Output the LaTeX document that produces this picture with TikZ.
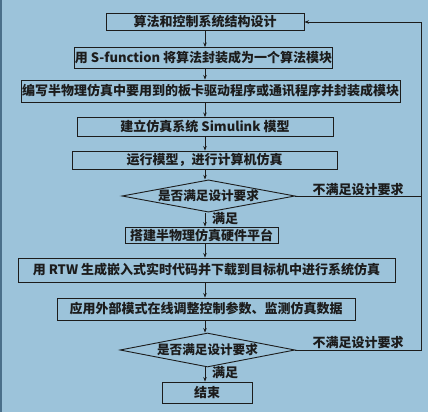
\documentclass[tikz,border=0pt]{standalone}
\usepackage{fontspec}
\setmainfont{Noto Sans CJK SC}
\usetikzlibrary{shapes.geometric,arrows.meta}
\definecolor{bg}{HTML}{9CC3DA}
\definecolor{edge}{HTML}{4A6F8A}
\definecolor{ink}{HTML}{1C1C1C}
\begin{document}
\begin{tikzpicture}[x=1pt,y=-1pt,
  stepbox/.style={draw=ink,line width=0.9pt,inner sep=0pt,text=ink,font=\fontsize{13}{13}\selectfont\bfseries},
  decide/.style={draw=ink,line width=0.9pt,diamond,aspect=5,inner sep=0pt,text=ink,font=\fontsize{12.6}{13}\selectfont\bfseries},
  lbl/.style={text=ink,inner sep=0pt,font=\fontsize{13}{13}\selectfont\bfseries},
  arr/.style={draw=ink,line width=0.8pt,-{Stealth[length=4.5pt,width=3.5pt]}},
  ln/.style={draw=ink,line width=0.8pt}]
\useasboundingbox (0,0) rectangle (428,412);
\fill[bg] (0,0) rectangle (428,412);
\fill[edge] (0,0) rectangle (2,412);
\coordinate (col) at (205,0);
\coordinate (fr) at (421,0);
\node[stepbox,minimum width=198pt,minimum height=17pt] (b1) at (205,22) {算法和控制系统结构设计};
\node[stepbox,minimum width=249pt,minimum height=21pt] (b2) at (203.5,58) {用 S-function 将算法封装成为一个算法模块};
\node[stepbox,minimum width=379pt,minimum height=22pt] (b3) at (210.5,91) {编写半物理仿真中要用到的板卡驱动程序或通讯程序并封装成模块};
\node[stepbox,minimum width=256pt,minimum height=19pt] (b4) at (205,127) {建立仿真系统 Simulink 模型};
\node[stepbox,minimum width=265pt,minimum height=18pt] (b5) at (204.5,160) {运行模型，进行计算机仿真};
\node[decide,minimum width=173pt,minimum height=32pt] (d1) at (208.5,196) {是否满足设计要求};
\node[stepbox,minimum width=153pt,minimum height=16pt] (b6) at (201.5,235) {搭建半物理仿真硬件平台};
\node[stepbox,minimum width=377pt,minimum height=24pt] (b7) at (206.5,270) {用 RTW 生成嵌入式实时代码并下载到目标机中进行系统仿真};
\node[stepbox,minimum width=298pt,minimum height=22pt] (b8) at (206,309) {应用外部模式在线调整控制参数、监测仿真数据};
\node[decide,minimum width=175pt,minimum height=34pt] (d2) at (207.5,350) {是否满足设计要求};
\node[stepbox,minimum width=90pt,minimum height=21pt] (b9) at (207,392.5) {结束};
\draw[arr] (b1.south -| col) -- (b2.north -| col);
\draw[arr] (b2.south -| col) -- (b3.north -| col);
\draw[arr] (b3.south -| col) -- (b4.north -| col);
\draw[arr] (b4.south -| col) -- (b5.north -| col);
\draw[arr] (b5.south -| col) -- (d1.north -| col);
\draw[arr] (d1.south -| col) -- (b6.north -| col);
\draw[arr] (b6.south -| col) -- (b7.north -| col);
\draw[arr] (b7.south -| col) -- (b8.north -| col);
\draw[arr] (b8.south -| col) -- (d2.north -| col);
\draw[arr] (d2.south -| col) -- (b9.north -| col);
\draw[ln] (d1.east) -- (d1.east -| fr);
\draw[arr] (d2.east) -- (d2.east -| fr) |- (b1.east);
\node[lbl] (n1) at (358,190) {不满足设计要求};
\node[lbl] (n2) at (358,343) {不满足设计要求};
\node[lbl,anchor=west] (y1) at (212,219) {满足};
\node[lbl,anchor=west] (y2) at (212,373) {满足};
\end{tikzpicture}
\end{document}
